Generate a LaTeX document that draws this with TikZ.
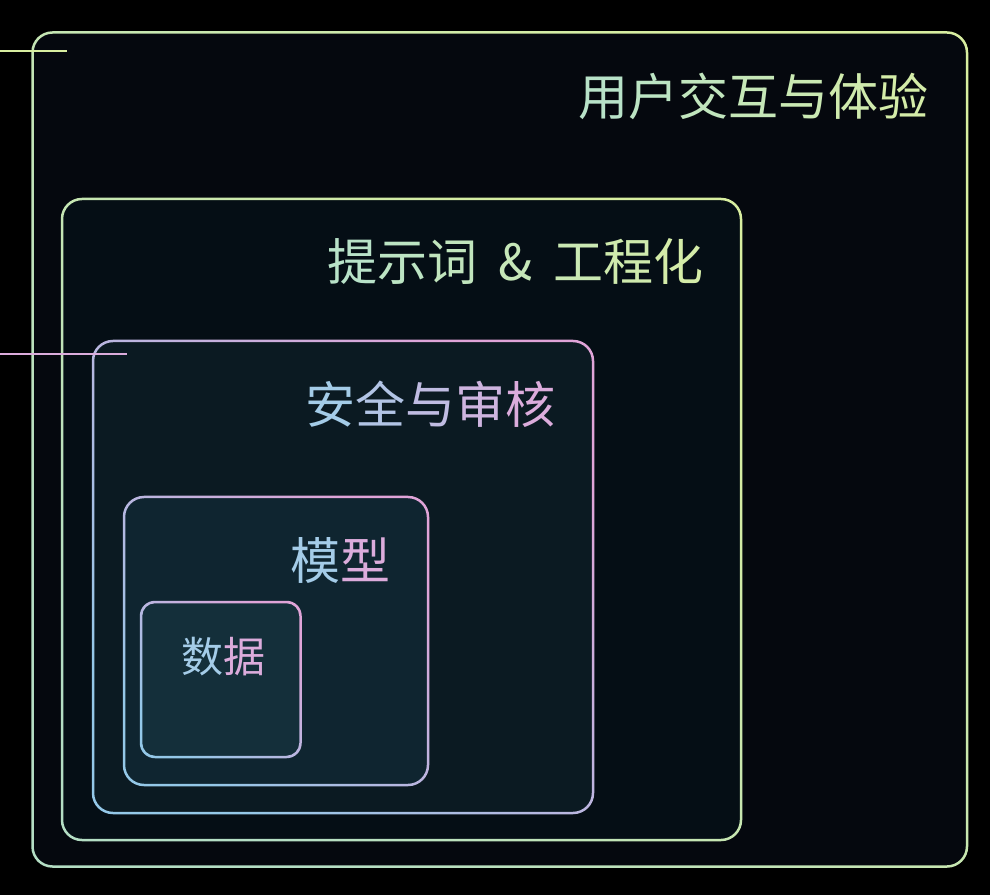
\documentclass[tikz,border=0pt]{standalone}
\usepackage{fontspec}
\setmainfont{Noto Sans CJK SC}
\usetikzlibrary{positioning}

\definecolor{mintedge}{HTML}{B4DEC4}
\definecolor{limeedge}{HTML}{D8EEA0}
\definecolor{skyedge}{HTML}{94C8E8}
\definecolor{pinkedge}{HTML}{E0A4D8}
\definecolor{minttext}{HTML}{B8E2C8}
\definecolor{limetext}{HTML}{D4ECA8}
\definecolor{skytext}{HTML}{A4CCE8}
\definecolor{pinktext}{HTML}{DCACDC}
\definecolor{fillA}{HTML}{05080E}
\definecolor{fillB}{HTML}{050E15}
\definecolor{fillC}{HTML}{0B1A22}
\definecolor{fillD}{HTML}{0F2530}
\definecolor{fillE}{HTML}{142F3A}

% layer: fill, then a shaded ring as its border
\newcommand{\layerbox}[7]{%
    \fill [#6,rounded corners=#5] (#1,#2) rectangle (#3,#4);
    \shade [#7] [rounded corners=#5+1.25] (#1-1.25,#2+1.25) rectangle (#3+1.25,#4-1.25)
        [rounded corners=#5-1.25] (#1+1.25,#2-1.25) rectangle (#3-1.25,#4+1.25);
}
% text coloured letter by letter from #1 to #2
\newcommand{\shadetext}[4]{%
    \foreach [count=\i] \ch in {#4} {%
        \pgfmathtruncatemacro\pct{100*(\i-1)/(#3-1)}%
        \textcolor{#2!\pct!#1}{\ch}}%
}

\begin{document}
\begin{tikzpicture}[x=1pt,y=1pt,
    greenring/.style={even odd rule,bottom color=mintedge,top color=limeedge,shading angle=-45},
    pinkring/.style={even odd rule,bottom color=skyedge,top color=pinkedge,shading angle=-45},
    title/.style={anchor=east,inner sep=0pt,font=\fontsize{50}{56}\selectfont}]

    % Background
    \fill [black] (0,0) rectangle (990,895);
    \useasboundingbox (0,0) rectangle (990,895);

    % Layer 1: user interaction
    \layerbox{32.5}{862.5}{967}{28.5}{20}{fillA}{greenring}
    \node (user) [title] at (929,799) {\shadetext{minttext}{limetext}{7}{用,户,交,互,与,体,验}};

    % Layer 2: prompts & engineering
    \layerbox{62}{696}{741}{55}{20}{fillB}{greenring}
    \node (prompt) [title] at (704,633) {\shadetext{minttext}{limetext}{7}{提,示,词,\hskip0.42em\&\hskip0.42em,工,程,化}};

    % Layer 3: safety & review
    \layerbox{93}{554}{593}{82}{20}{fillC}{pinkring}
    \node (safety) [title] at (556,491) {\shadetext{skytext}{pinktext}{5}{安,全,与,审,核}};

    % Layer 4: model
    \layerbox{124}{398}{428}{110}{20}{fillD}{pinkring}
    \node (model) [title] at (391,335) {\shadetext{skytext}{pinktext}{2}{模,型}};

    % Layer 5: data
    \layerbox{141}{293}{300.5}{138}{14}{fillE}{pinkring}
    \node (data) [title,font=\fontsize{42}{48}\selectfont] at (266,238) {\shadetext{skytext}{pinktext}{2}{数,据}};

    % Marker lines from the left edge
    \coordinate (userin) at (0,844);
    \coordinate (userend) at (67,844);
    \draw [limeedge,line width=1.6pt] (userin) -- (userend);
    \coordinate (safetyin) at (0,541);
    \coordinate (safetyend) at (127,541);
    \draw [pinktext,line width=1.6pt] (safetyin) -- (safetyend);

\end{tikzpicture}
\end{document}
